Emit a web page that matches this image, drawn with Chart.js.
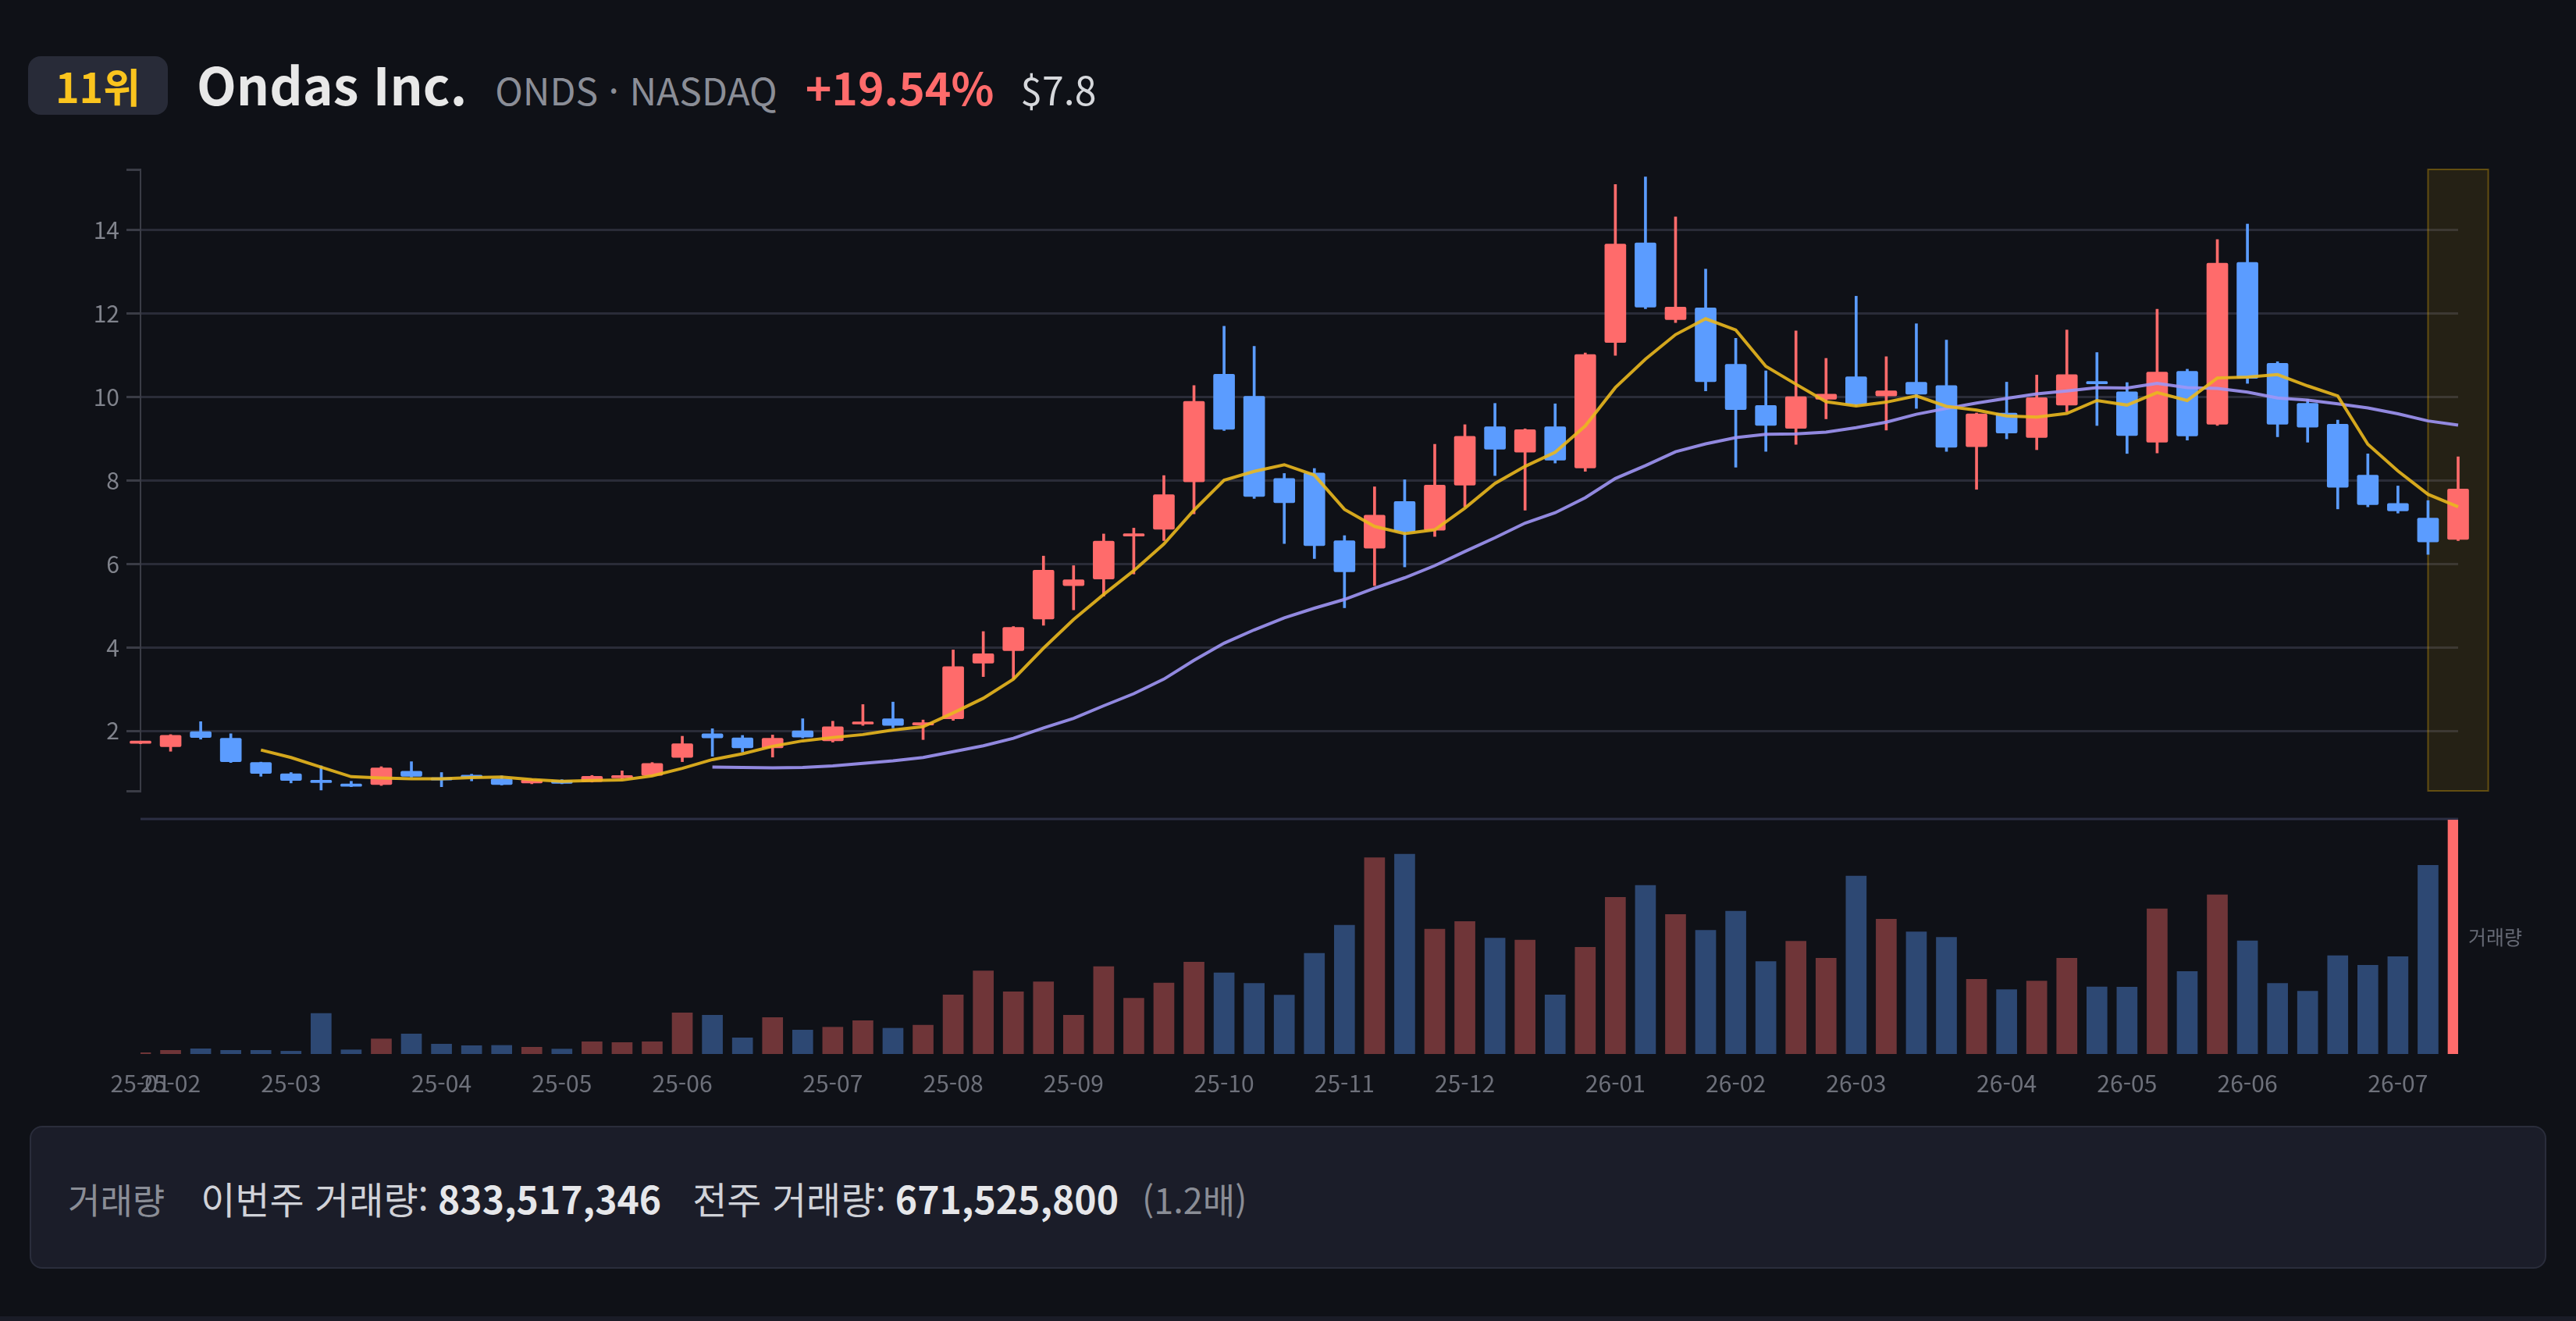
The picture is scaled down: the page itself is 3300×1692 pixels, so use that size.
<!DOCTYPE html>
<html lang="ko">
<head>
<meta charset="utf-8">
<title>Ondas Inc. 주간 차트</title>
<script src="https://cdn.jsdelivr.net/npm/chart.js@4.4.1/dist/chart.umd.min.js"></script>
<style>
  html, body { margin: 0; padding: 0; background: #0f1117; }
  body { width: 3300px; height: 1692px; position: relative; overflow: hidden;
         font-family: "Noto Sans CJK KR", "Noto Sans", sans-serif; }
  .rank { position: absolute; left: 36px; top: 72px; width: 179px; height: 75px;
          background: #282b38; border-radius: 16px; color: #fac41e; font-weight: 700;
          font-size: 52px; line-height: 1; display: flex; align-items: center; justify-content: center; }
  .title { position: absolute; left: 252px; top: 73px; display: flex; align-items: baseline;
           white-space: nowrap; line-height: 1; }
  .name { font-size: 66px; font-weight: 700; color: #e8e8e8; }
  .ticker { font-size: 48px; color: #8b8e97; margin-left: 36px; }
  .change { font-size: 57px; font-weight: 700; color: #ff6b6b; margin-left: 36px; }
  .price { font-size: 50px; color: #d6d8dc; margin-left: 34px; }
  #priceChart { position: absolute; left: 0; top: 190px; }
  #volumeChart { position: absolute; left: 0; top: 1030px; }
  .info { position: absolute; left: 38px; top: 1442px; width: 3224px; height: 183px;
          box-sizing: border-box; background: #1b1d29; border: 2px solid #2a2d3b;
          border-radius: 16px; display: flex; align-items: center; padding-left: 47px; }
  .info .row { display: flex; align-items: baseline; white-space: nowrap; line-height: 1; }
  .info .lbl { font-size: 45px; color: #8a8d96; }
  .info .t { font-size: 48px; color: #d0d2d8; margin-left: 46px; }
  .info .t2 { margin-left: 40px; }
  .info .v { font-size: 48px; font-weight: 700; color: #e6e7ea; margin-left: 12px; }
  .info .ratio { font-size: 45px; color: #8a8d96; margin-left: 30px; }
  .bottom-strip { position: absolute; left: 0; top: 1686px; width: 3300px; height: 6px; background: #1a1c27; }
</style>
</head>
<body>
<div class="rank">11위</div>
<div class="title">
  <span class="name">Ondas Inc.</span>
  <span class="ticker">ONDS · NASDAQ</span>
  <span class="change">+19.54%</span>
  <span class="price">$7.8</span>
</div>

<canvas id="priceChart" width="3300" height="850"></canvas>
<canvas id="volumeChart" width="3300" height="400"></canvas>

<div class="info">
  <div class="row">
    <span class="lbl">거래량</span>
    <span class="t">이번주 거래량:</span><span class="v">833,517,346</span>
    <span class="t t2">전주 거래량:</span><span class="v">671,525,800</span>
    <span class="ratio">(1.2배)</span>
  </div>
</div>
<div class="bottom-strip"></div>

<script>
// weekly candles, week start dates
const weeks = [
  '25-01-27', '25-02-03', '25-02-10', '25-02-17', '25-02-24', '25-03-03', '25-03-10', '25-03-17',
  '25-03-24', '25-03-31', '25-04-07', '25-04-14', '25-04-21', '25-04-28', '25-05-05', '25-05-12',
  '25-05-19', '25-05-26', '25-06-02', '25-06-09', '25-06-16', '25-06-23', '25-06-30', '25-07-07',
  '25-07-14', '25-07-21', '25-07-28', '25-08-04', '25-08-11', '25-08-18', '25-08-25', '25-09-01',
  '25-09-08', '25-09-15', '25-09-22', '25-09-29', '25-10-06', '25-10-13', '25-10-20', '25-10-27',
  '25-11-03', '25-11-10', '25-11-17', '25-11-24', '25-12-01', '25-12-08', '25-12-15', '25-12-22',
  '25-12-29', '26-01-05', '26-01-12', '26-01-19', '26-01-26', '26-02-02', '26-02-09', '26-02-16',
  '26-02-23', '26-03-02', '26-03-09', '26-03-16', '26-03-23', '26-03-30', '26-04-06', '26-04-13',
  '26-04-20', '26-04-27', '26-05-04', '26-05-11', '26-05-18', '26-05-25', '26-06-01', '26-06-08',
  '26-06-15', '26-06-22', '26-06-29', '26-07-06', '26-07-13', '26-07-20'
];

const opens = [
  1.70, 1.62, 1.98, 1.82, 1.24, 0.97, 0.78, 0.71, 0.71, 1.03, 0.84, 0.90, 0.85, 0.75, 0.81, 0.78,
  0.87, 0.93, 1.36, 1.93, 1.83, 1.59, 2.00, 1.76, 2.16, 2.29, 2.14, 2.29, 3.62, 3.92, 4.68, 5.48,
  5.64, 6.67, 6.83, 7.97, 10.55, 10.02, 8.05, 8.18, 6.56, 6.38, 7.50, 6.81, 7.89, 9.29, 8.68, 9.29,
  8.30, 11.31, 13.70, 11.86, 12.14, 10.79, 9.80, 9.25, 9.95, 10.49, 10.03, 10.36, 10.28, 8.81, 9.62, 9.03,
  9.81, 10.36, 10.13, 8.92, 10.62, 9.35, 13.23, 10.81, 9.85, 9.35, 8.13, 7.45, 7.10, 6.59
];
const highs = [
  1.74, 1.91, 2.22, 1.93, 1.25, 1.00, 1.16, 0.79, 1.14, 1.26, 1.00, 0.96, 0.92, 0.84, 0.83, 0.93,
  1.04, 1.24, 1.87, 2.05, 1.89, 1.90, 2.29, 2.23, 2.63, 2.69, 2.26, 3.94, 4.38, 4.50, 6.19, 5.96,
  6.72, 6.86, 8.12, 10.28, 11.70, 11.22, 8.17, 8.29, 6.68, 7.85, 8.02, 8.87, 9.34, 9.85, 9.24, 9.84,
  11.06, 15.10, 15.28, 14.32, 13.07, 11.41, 10.63, 11.59, 10.93, 12.42, 10.97, 11.76, 11.37, 9.62, 10.36, 10.53,
  11.61, 11.07, 10.35, 12.11, 10.67, 13.78, 14.15, 10.85, 9.95, 9.45, 8.64, 7.87, 7.52, 8.57
];
const lows = [
  1.69, 1.51, 1.80, 1.24, 0.91, 0.75, 0.58, 0.66, 0.69, 0.89, 0.66, 0.80, 0.70, 0.73, 0.73, 0.77,
  0.85, 0.92, 1.26, 1.39, 1.49, 1.37, 1.83, 1.73, 2.13, 2.07, 1.79, 2.25, 3.30, 3.25, 4.53, 4.90,
  5.23, 5.76, 6.56, 7.20, 9.20, 7.57, 6.49, 6.13, 4.95, 5.48, 5.93, 6.66, 7.37, 8.12, 7.29, 8.42,
  8.22, 11.00, 12.12, 11.79, 10.15, 8.32, 8.70, 8.87, 9.48, 9.80, 9.21, 9.73, 8.70, 7.79, 9.00, 8.74,
  9.65, 9.32, 8.65, 8.66, 8.97, 9.32, 10.33, 9.05, 8.92, 7.32, 7.37, 7.22, 6.23, 6.56
];
const closes = [
  1.73, 1.89, 1.84, 1.26, 0.98, 0.81, 0.76, 0.67, 1.11, 0.91, 0.82, 0.88, 0.71, 0.82, 0.74, 0.91,
  0.92, 1.22, 1.69, 1.83, 1.59, 1.82, 1.85, 2.10, 2.21, 2.13, 2.19, 3.54, 3.85, 4.48, 5.85, 5.62,
  6.55, 6.71, 7.66, 9.90, 9.23, 7.62, 7.47, 6.44, 5.81, 7.17, 6.78, 7.89, 9.06, 8.75, 9.22, 8.49,
  11.02, 13.67, 12.16, 12.16, 10.37, 9.70, 9.32, 10.01, 10.07, 9.83, 10.15, 10.07, 8.80, 9.60, 9.14, 9.99,
  10.54, 10.32, 9.08, 10.60, 9.07, 13.21, 10.45, 9.35, 9.28, 7.84, 7.42, 7.27, 6.53, 7.80
];

// 5-week and 20-week averages as drawn
const ma5 = [
  null, null, null, null,
  1.54, 1.36, 1.13, 0.90, 0.87, 0.85, 0.85, 0.88, 0.89, 0.83, 0.79, 0.81, 0.82, 0.92, 1.10, 1.31,
  1.45, 1.63, 1.76, 1.84, 1.91, 2.02, 2.10, 2.43, 2.78, 3.24, 3.98, 4.67, 5.27, 5.84, 6.48, 7.29,
  8.01, 8.22, 8.38, 8.13, 7.31, 6.90, 6.73, 6.82, 7.34, 7.93, 8.34, 8.68, 9.31, 10.23, 10.91, 11.50,
  11.88, 11.61, 10.74, 10.31, 9.89, 9.79, 9.88, 10.03, 9.78, 9.69, 9.55, 9.52, 9.61, 9.92, 9.81, 10.11,
  9.92, 10.46, 10.48, 10.54, 10.27, 10.03, 8.87, 8.23, 7.67, 7.37
];
const ma20 = [
  null, null, null, null, null, null, null, null, null, null, null, null, null, null, null, null,
  null, null, null,
  1.13, 1.12, 1.11, 1.12, 1.16, 1.22, 1.28, 1.36, 1.50, 1.64, 1.82, 2.07, 2.30, 2.60, 2.89, 3.24,
  3.69, 4.10, 4.42, 4.71, 4.94, 5.15, 5.42, 5.67, 5.96, 6.30, 6.63, 6.98, 7.23, 7.59, 8.05, 8.36,
  8.69, 8.88, 9.03, 9.11, 9.12, 9.16, 9.27, 9.40, 9.59, 9.73, 9.86, 9.97, 10.08, 10.15, 10.23, 10.22,
  10.33, 10.23, 10.21, 10.12, 9.98, 9.93, 9.84, 9.74, 9.60, 9.43, 9.33
];

const volumes = [
  4600000, 13000000, 18500000, 13000000, 13000000, 10000000, 144500000, 14800000,
  53700000, 71300000, 35200000, 29600000, 30600000, 24100000, 17600000, 43500000,
  40700000, 43500000, 146300000, 138000000, 57400000, 129700000, 85200000, 95400000,
  118500000, 91700000, 102800000, 210200000, 295400000, 221300000, 256500000, 138000000,
  311200000, 198200000, 252800000, 326900000, 289000000, 251000000, 209300000, 358400000,
  458400000, 698300000, 711300000, 444500000, 471400000, 412100000, 405600000, 210200000,
  379700000, 557500000, 600100000, 496400000, 439900000, 508400000, 328800000, 401000000,
  340800000, 633500000, 479700000, 434400000, 414900000, 265800000, 228800000, 259300000,
  340800000, 238900000, 238000000, 516800000, 293600000, 566800000, 402900000, 251000000,
  223200000, 350100000, 315800000, 346400000, 671525800, 833517346
];

const priceTicks = [2, 4, 6, 8, 10, 12, 14];

const UP = '#ff6b6b';
const DOWN = '#5b9cff';
const FONT = '"Noto Sans CJK KR", "Noto Sans", sans-serif';

const candleColors = closes.map((c, i) => c >= opens[i] ? UP : DOWN);
const lastIdx = weeks.length - 1;
const volumeColors = closes.map((c, i) => {
    if (i === lastIdx) return UP;
    return c >= opens[i] ? 'rgba(255, 107, 107, 0.4)' : 'rgba(91, 156, 255, 0.4)';
});

const highlightWeek = {
    id: 'highlightWeek',
    beforeDatasetsDraw(chart) {
        const { ctx, chartArea, scales } = chart;
        const cx = scales.x.getPixelForValue(lastIdx);
        const step = cx - scales.x.getPixelForValue(lastIdx - 1);
        ctx.save();
        ctx.fillStyle = 'rgba(234, 179, 8, 0.1)';
        ctx.fillRect(cx - step, chartArea.top, step * 2, chartArea.bottom - chartArea.top);
        ctx.strokeStyle = 'rgba(234, 179, 8, 0.35)';
        ctx.lineWidth = 2;
        ctx.strokeRect(cx - step, chartArea.top, step * 2, chartArea.bottom - chartArea.top);
        ctx.restore();
    }
};

const volumeDecor = {
    id: 'volumeDecor',
    beforeDatasetsDraw(chart) {
        const { ctx, chartArea } = chart;
        ctx.save();
        ctx.strokeStyle = '#2c2f44';
        ctx.lineWidth = 3;
        ctx.beginPath();
        ctx.moveTo(chartArea.left, chartArea.top - 1);
        ctx.lineTo(chartArea.right, chartArea.top - 1);
        ctx.stroke();
        ctx.restore();
    },
    afterDraw(chart) {
        const { ctx, chartArea } = chart;
        ctx.save();
        ctx.fillStyle = '#666a75';
        ctx.font = '25px ' + FONT;
        ctx.textBaseline = 'middle';
        ctx.fillText('거래량', chartArea.right + 13, (chartArea.top + chartArea.bottom) / 2);
        ctx.restore();
    }
};

new Chart(document.getElementById('priceChart'), {
    type: 'bar',
    data: {
        labels: weeks,
        datasets: [
            {
                type: 'line',
                label: 'MA5',
                data: ma5,
                borderColor: 'rgba(234, 184, 30, 0.9)',
                borderWidth: 4,
                pointRadius: 0,
                tension: 0,
                order: 0
            },
            {
                type: 'line',
                label: 'MA20',
                data: ma20,
                borderColor: 'rgba(160, 150, 245, 0.9)',
                borderWidth: 4,
                pointRadius: 0,
                tension: 0,
                order: 0
            },
            {
                label: 'wick',
                data: lows.map((l, i) => [l, highs[i]]),
                backgroundColor: candleColors,
                barThickness: 3,
                grouped: false,
                clip: false,
                order: 2
            },
            {
                label: 'body',
                data: opens.map((o, i) => [o, closes[i]]),
                backgroundColor: candleColors,
                barThickness: 27,
                borderRadius: 2,
                borderSkipped: false,
                minBarLength: 3,
                grouped: false,
                clip: false,
                order: 1
            }
        ]
    },
    options: {
        responsive: false,
        animation: false,
        devicePixelRatio: 1,
        layout: {
            padding: { top: 26, right: 151, bottom: 20, left: 0 }
        },
        plugins: {
            legend: { display: false },
            tooltip: { enabled: false }
        },
        scales: {
            x: {
                display: false,
                offset: false,
                grid: { display: false }
            },
            y: {
                min: 0.56,
                max: 15.46,
                ticks: {
                    stepSize: 2,
                    autoSkip: false,
                    padding: 9,
                    color: '#80838c',
                    font: { family: FONT, size: 30 },
                    callback: v => priceTicks.includes(v) ? String(v) : ''
                },
                grid: {
                    color: ctx => priceTicks.includes(ctx.tick.value) ? '#2a2c38' : 'transparent',
                    lineWidth: 3,
                    tickColor: '#3a3c46',
                    tickLength: 18
                },
                border: { display: true, color: '#3a3c46', width: 2 },
                afterFit(scale) {
                    scale.width = 180;
                }
            }
        }
    },
    plugins: [highlightWeek]
});

new Chart(document.getElementById('volumeChart'), {
    type: 'bar',
    data: {
        labels: weeks,
        datasets: [{
            label: '거래량',
            data: volumes,
            backgroundColor: volumeColors,
            barThickness: 26
        }]
    },
    options: {
        responsive: false,
        animation: false,
        devicePixelRatio: 1,
        layout: {
            padding: { top: 20, right: 151, bottom: 20, left: 180 }
        },
        plugins: {
            legend: { display: false },
            tooltip: { enabled: false }
        },
        scales: {
            x: {
                offset: false,
                grid: { display: false, drawTicks: false },
                border: { display: false },
                ticks: {
                    autoSkip: false,
                    maxRotation: 0,
                    padding: 20,
                    color: '#6e717b',
                    font: { family: FONT, size: 30 },
                    callback: function(value, index) {
                        const cur = weeks[index].slice(0, 5);
                        if (index === 0 || weeks[index - 1].slice(0, 5) !== cur) return cur;
                        return '';
                    }
                },
                afterFit(scale) {
                    scale.height = 60;
                }
            },
            y: {
                display: false,
                min: 0,
                max: Math.max(...volumes)
            }
        }
    },
    plugins: [volumeDecor]
});
</script>
</body>
</html>
